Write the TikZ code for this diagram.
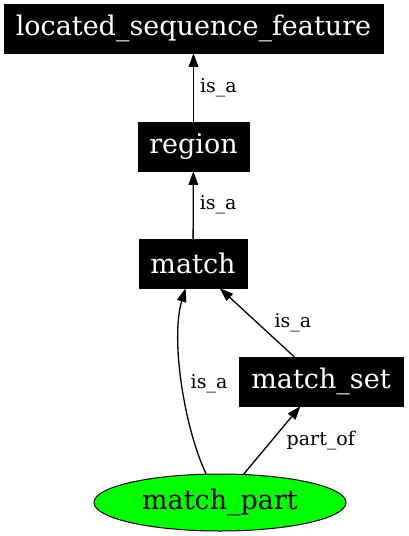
\documentclass[tikz,border=0pt]{standalone}
\usepackage{fontspec}
\setmainfont{DejaVu Serif}
\usepackage{tikz}
\usetikzlibrary{shapes.geometric,arrows.meta,positioning}

\begin{document}
\begin{tikzpicture}[x=1pt, y=-1pt,
    term/.style={rectangle, draw, fill=black, text=white, minimum height=49pt, inner sep=0pt, font=\fontsize{27}{32}\selectfont},
    partnode/.style={ellipse, draw, line width=1pt, fill=green, minimum width=252pt, minimum height=57pt, inner sep=0pt, font=\fontsize{27}{32}\selectfont},
    line/.style={draw, line width=1.3pt, -{Triangle[length=13.6pt, width=9.5pt]}},
    rel/.style={inner sep=0pt, font=\fontsize{19}{23}\selectfont}]

    \useasboundingbox (0,0) rectangle (408,536);

    \node [term, minimum width=379pt] (located) at (193.5,28.5) {located\_sequence\_feature};
    \node [term, minimum width=111pt] (region) at (193.5,146.5) {region};
    \node [term, minimum width=108pt] (match) at (193,263.5) {match};
    \node [term, minimum width=164pt] (matchset) at (321,381.5) {match\_set};
    \node [partnode] (matchpart) at (220,502.5) {match\_part};

    \path [line] (region) -- node [rel, right=6pt] {is\_a} (located);
    \path [line] (match) -- node [rel, right=6pt] {is\_a} (region);
    \path [line] (matchset) -- node [rel, right=17pt] {is\_a} (match);
    \path [line] (matchpart) .. controls (185,430) and (170,340) .. node [rel, right=8pt] {is\_a} (match);
    \path [line] (matchpart) -- node [rel, right=14pt] {part\_of} (matchset);
\end{tikzpicture}
\end{document}
